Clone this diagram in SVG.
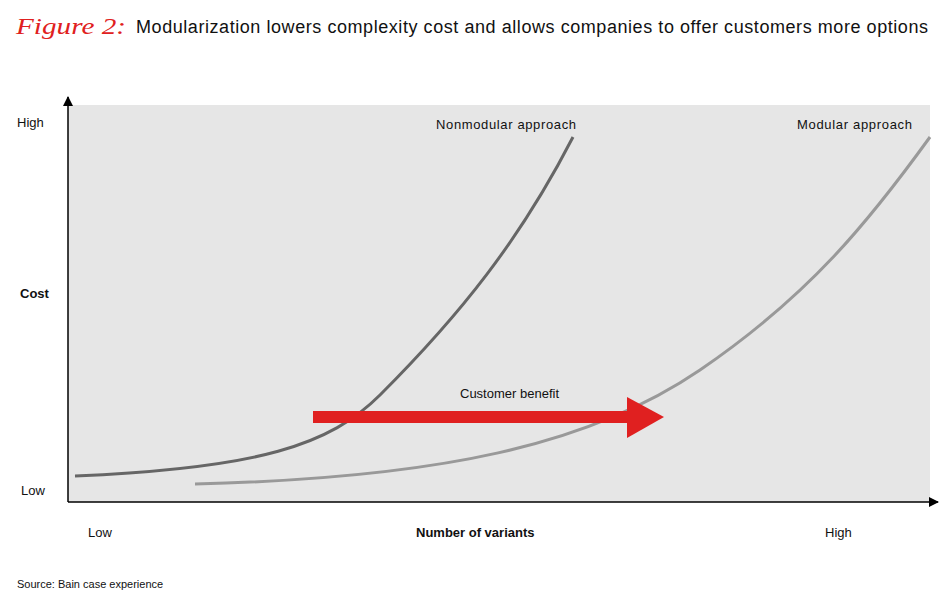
<svg xmlns="http://www.w3.org/2000/svg" width="950" height="611" viewBox="0 0 950 611">
<style>
text{font-family:"Liberation Sans","DejaVu Sans",sans-serif;fill:#111}
.s{font-size:13px}
.b{font-size:13px;font-weight:bold}
.c{fill:none;stroke-width:3}
</style>
<defs>
<marker id="ah" viewBox="0 0 10 10" refX="9" refY="5" markerWidth="10" markerHeight="10" markerUnits="userSpaceOnUse" orient="auto"><path d="M0,0L10,5L0,10z" fill="#000"/></marker>
</defs>
<rect width="950" height="611" fill="#fff"/>
<text x="16" y="34" textLength="110" lengthAdjust="spacingAndGlyphs" style="font-family:'Liberation Serif',serif;font-style:italic;font-size:24px;fill:#e02020">Figure 2:</text>
<text x="136" y="33" textLength="792" style="font-size:18px">Modularization lowers complexity cost and allows companies to offer customers more options</text>
<rect x="68" y="105" width="862" height="397" fill="#e6e6e6"/>
<g id="axes">
<line x1="68" y1="502" x2="68" y2="97" stroke="#000" stroke-width="1.5" marker-end="url(#ah)"/>
<line x1="68" y1="502" x2="938" y2="502" stroke="#000" stroke-width="1.5" marker-end="url(#ah)"/>
</g>
<g id="connectors">
<path id="nonmodular" class="c" stroke="#666" d="M75,476 C260,468 330,445 380,395 C460,315 520,240 573,137"/>
<path id="modular" class="c" stroke="#999" d="M195,484 C440,478 590,445 700,370 C810,295 870,220 930,137"/>
</g>
<g id="benefit">
<rect x="313" y="411" width="316" height="12" fill="#e02020"/>
<path d="M627,397L664,417L627,438z" fill="#e02020"/>
<text class="s" x="460" y="398">Customer benefit</text>
</g>
<text class="s" x="436" y="129" textLength="140">Nonmodular approach</text>
<text class="s" x="797" y="129" textLength="115">Modular approach</text>
<text class="s" x="17" y="127">High</text>
<text class="b" x="20" y="298">Cost</text>
<text class="s" x="21" y="495">Low</text>
<text class="s" x="88" y="537">Low</text>
<text class="b" x="416" y="537">Number of variants</text>
<text class="s" x="825" y="537">High</text>
<text x="17" y="588" style="font-size:11px">Source: Bain case experience</text>
</svg>
